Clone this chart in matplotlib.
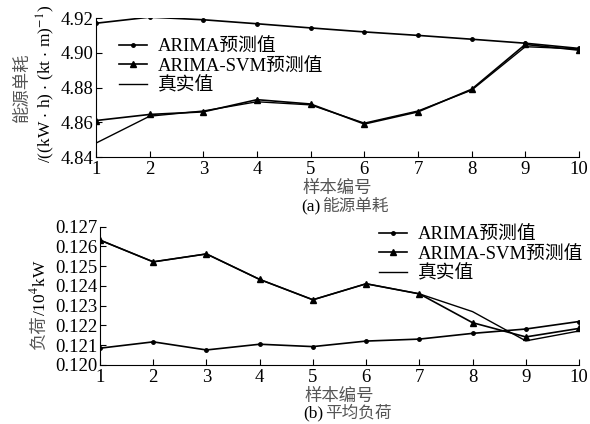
import numpy as np
import matplotlib
matplotlib.use('Agg')
import matplotlib.pyplot as plt

plt.rcParams['font.family'] = ['Liberation Serif', 'Noto Sans CJK SC']
plt.rcParams['mathtext.fontset'] = 'stix'

# sample numbers
samples = np.arange(1, 11)

# (a) energy consumption per unit
energy_arima = [4.917, 4.9205, 4.919, 4.9167, 4.9143, 4.912, 4.910, 4.9078, 4.9055, 4.9025]
energy_svm = [4.861, 4.8645, 4.866, 4.873, 4.8705, 4.859, 4.866, 4.879, 4.9048, 4.9015]
energy_true = [4.848, 4.8635, 4.8665, 4.8718, 4.870, 4.8595, 4.8665, 4.8785, 4.9035, 4.9022]
energy_ticks = [4.84, 4.86, 4.88, 4.90, 4.92]

# (b) average load
load_arima = [0.12085, 0.12117, 0.12076, 0.12105, 0.12093, 0.12121, 0.12131, 0.1216, 0.12182, 0.12220]
load_svm = [0.12632, 0.12522, 0.12562, 0.12433, 0.1233, 0.12411, 0.1236, 0.12214, 0.12142, 0.12185]
load_true = [0.12632, 0.12522, 0.12562, 0.12433, 0.1233, 0.12411, 0.1236, 0.1227, 0.12122, 0.12172]
load_ticks = [0.120, 0.121, 0.122, 0.123, 0.124, 0.125, 0.126, 0.127]

labels = ['ARIMA预测值', 'ARIMA-SVM预测值', '真实值']
gray = '#555555'
cjk = 'Noto Sans CJK SC'

fig = plt.figure(figsize=(5.9, 4.24), dpi=100)
ax1 = fig.add_axes([0.1627, 0.6297, 0.8186, 0.3278])
ax2 = fig.add_axes([0.1695, 0.1392, 0.8119, 0.3262])


def style(ax):
    ax.spines['top'].set_visible(False)
    ax.spines['right'].set_visible(False)
    ax.tick_params(direction='in', length=4, width=0.8, labelsize=13.5, pad=2)
    ax.tick_params(axis='x', pad=3)
    ax.set_xlim(1, 10)
    ax.set_xticks(samples)


leg_kw = dict(loc='upper left', bbox_transform=fig.transFigure, frameon=False, fontsize=13.5,
              handlelength=1.5, handletextpad=0.55, labelspacing=0.12, borderpad=0,
              borderaxespad=0)

# panel (a)
ax1.plot(samples, energy_arima, color='black', lw=1.2, marker='o', ms=2.5)
ax1.plot(samples, energy_svm, color='black', lw=1.2, marker='^', ms=4)
ax1.plot(samples, energy_true, color='black', lw=1.0)
style(ax1)
ax1.set_ylim(4.84, 4.92)
ax1.set_yticks(energy_ticks)
ax1.set_yticklabels(['%.2f' % v for v in energy_ticks])
ax1.set_xlabel('样本编号', family=cjk, color=gray, fontsize=12.5, labelpad=0.5)
ax1.legend(labels, bbox_to_anchor=(119 / 590, 1 - 38 / 424), **leg_kw)
fig.text(22 / 590, 1 - 87 / 424, '能源单耗', rotation=90, family=cjk, color=gray,
         fontsize=12.5, ha='center', va='center')
fig.text(46 / 590, 1 - 84 / 424, r'/((kW $\cdot$ h) $\cdot$ (kt $\cdot$ m)$^{-1}$)', rotation=90,
         fontsize=12.5, ha='center', va='center')
fig.text(320 / 590, 1 - 207 / 424, '(a)', fontsize=12.5, ha='right', va='center')
fig.text(322 / 590, 1 - 207 / 424, '能源单耗', family=cjk, color=gray, fontsize=12,
         ha='left', va='center')

# panel (b)
ax2.plot(samples, load_arima, color='black', lw=1.2, marker='o', ms=2.5)
ax2.plot(samples, load_svm, color='black', lw=1.2, marker='^', ms=4)
ax2.plot(samples, load_true, color='black', lw=1.0)
style(ax2)
ax2.set_ylim(0.120, 0.127)
ax2.set_yticks(load_ticks)
ax2.set_yticklabels(['%.3f' % v for v in load_ticks])
ax2.set_xlabel('样本编号', family=cjk, color=gray, fontsize=12.5, labelpad=0.5)
fig.text(39 / 590, 1 - 333 / 424, '负荷', rotation=90, family=cjk, color=gray,
         fontsize=12.5, ha='center', va='center')
fig.text(39 / 590, 1 - 288 / 424, '/10$^4$kW', rotation=90, fontsize=12.5,
         ha='center', va='center')
ax2.legend(labels, bbox_to_anchor=(379 / 590, 1 - 226 / 424), **leg_kw)
fig.text(323 / 590, 1 - 413 / 424, '(b)', fontsize=12.5, ha='right', va='center')
fig.text(325 / 590, 1 - 413 / 424, '平均负荷', family=cjk, color=gray, fontsize=12,
         ha='left', va='center')

fig.savefig('out.png', dpi=100)
